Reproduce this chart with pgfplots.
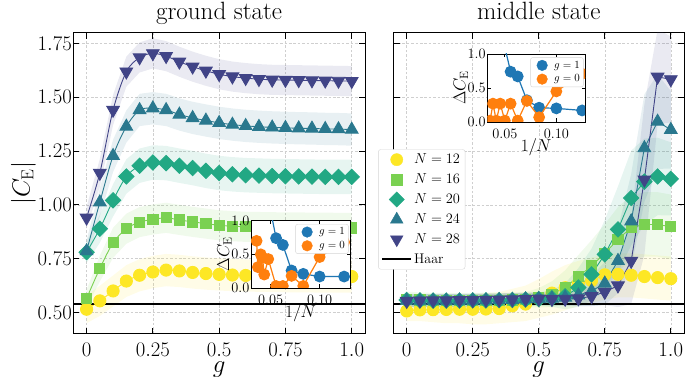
\documentclass[border=0pt]{standalone}
\usepackage{pgfplots}
\pgfplotsset{compat=1.18}
\usepackage{pgfplotstable}
\usepgfplotslibrary{fillbetween}

\definecolor{cA}{HTML}{FDE725}
\definecolor{cB}{HTML}{7AD151}
\definecolor{cC}{HTML}{22A884}
\definecolor{cD}{HTML}{2A788E}
\definecolor{cE}{HTML}{414487}
\definecolor{tblue}{HTML}{1F77B4}
\definecolor{torange}{HTML}{FF7F0E}
\definecolor{gridc}{HTML}{CFCFCF}
\definecolor{legc}{HTML}{D5D5D5}

% ---------------- ground state ----------------
\pgfplotstableread{
g y lo hi
0 0.515 0.450 0.580
0.05 0.554 0.484 0.624
0.1 0.600 0.528 0.672
0.15 0.646 0.572 0.720
0.2 0.673 0.598 0.748
0.25 0.688 0.613 0.763
0.3 0.697 0.622 0.772
0.35 0.693 0.618 0.768
0.4 0.686 0.611 0.761
0.45 0.681 0.606 0.756
0.5 0.677 0.602 0.752
0.55 0.674 0.599 0.749
0.6 0.672 0.597 0.747
0.65 0.671 0.596 0.746
0.7 0.670 0.595 0.745
0.75 0.669 0.594 0.744
0.8 0.668 0.593 0.743
0.85 0.668 0.593 0.743
0.9 0.667 0.592 0.742
0.95 0.667 0.592 0.742
1.0 0.667 0.592 0.742
}\gA
\pgfplotstableread{
g y lo hi
0 0.565 0.525 0.605
0.05 0.704 0.644 0.764
0.1 0.824 0.754 0.894
0.15 0.889 0.819 0.959
0.2 0.920 0.850 0.990
0.25 0.932 0.862 1.002
0.3 0.940 0.870 1.010
0.35 0.930 0.860 1.000
0.4 0.921 0.851 0.991
0.45 0.913 0.843 0.983
0.5 0.905 0.835 0.975
0.55 0.901 0.831 0.971
0.6 0.898 0.828 0.968
0.65 0.897 0.827 0.967
0.7 0.896 0.826 0.966
0.75 0.895 0.825 0.965
0.8 0.895 0.825 0.965
0.85 0.894 0.824 0.964
0.9 0.894 0.824 0.964
0.95 0.893 0.823 0.963
1.0 0.893 0.823 0.963
}\gB
\pgfplotstableread{
g y lo hi
0 0.780 0.730 0.830
0.05 0.889 0.824 0.954
0.1 1.021 0.946 1.096
0.15 1.132 1.052 1.212
0.2 1.182 1.102 1.262
0.25 1.197 1.117 1.277
0.3 1.194 1.114 1.274
0.35 1.182 1.102 1.262
0.4 1.171 1.091 1.251
0.45 1.158 1.078 1.238
0.5 1.148 1.068 1.228
0.55 1.142 1.062 1.222
0.6 1.138 1.058 1.218
0.65 1.136 1.056 1.216
0.7 1.134 1.054 1.214
0.75 1.133 1.053 1.213
0.8 1.132 1.052 1.212
0.85 1.131 1.051 1.211
0.9 1.130 1.050 1.210
0.95 1.130 1.050 1.210
1.0 1.130 1.050 1.210
}\gC
\pgfplotstableread{
g y lo hi
0 0.785 0.735 0.835
0.05 1.012 0.947 1.077
0.1 1.228 1.153 1.303
0.15 1.364 1.289 1.439
0.2 1.441 1.366 1.516
0.25 1.449 1.374 1.524
0.3 1.441 1.366 1.516
0.35 1.420 1.345 1.495
0.4 1.404 1.329 1.479
0.45 1.392 1.317 1.467
0.5 1.381 1.306 1.456
0.55 1.373 1.298 1.448
0.6 1.367 1.292 1.442
0.65 1.363 1.288 1.438
0.7 1.360 1.285 1.435
0.75 1.358 1.283 1.433
0.8 1.356 1.281 1.431
0.85 1.355 1.280 1.430
0.9 1.353 1.278 1.428
0.95 1.352 1.277 1.427
1.0 1.350 1.275 1.425
}\gD
\pgfplotstableread{
g y lo hi
0 0.940 0.890 0.990
0.05 1.148 1.083 1.213
0.1 1.441 1.371 1.511
0.15 1.619 1.549 1.689
0.2 1.685 1.615 1.755
0.25 1.704 1.634 1.774
0.3 1.691 1.621 1.761
0.35 1.665 1.595 1.735
0.4 1.642 1.572 1.712
0.45 1.623 1.553 1.693
0.5 1.607 1.537 1.677
0.55 1.596 1.526 1.666
0.6 1.589 1.519 1.659
0.65 1.584 1.514 1.654
0.7 1.581 1.511 1.651
0.75 1.580 1.510 1.650
0.8 1.579 1.509 1.649
0.85 1.578 1.508 1.648
0.9 1.577 1.507 1.647
0.95 1.576 1.506 1.646
1.0 1.575 1.505 1.645
}\gE

% ---------------- middle state ----------------
\pgfplotstableread{
g y lo hi
0 0.507 0.460 0.570
0.05 0.512 0.460 0.575
0.1 0.513 0.455 0.575
0.15 0.514 0.450 0.580
0.2 0.515 0.450 0.580
0.25 0.515 0.445 0.585
0.3 0.516 0.445 0.590
0.35 0.518 0.450 0.595
0.4 0.531 0.455 0.610
0.45 0.539 0.460 0.625
0.5 0.565 0.475 0.655
0.55 0.590 0.490 0.690
0.6 0.615 0.510 0.720
0.65 0.635 0.530 0.740
0.7 0.648 0.545 0.755
0.75 0.675 0.560 0.770
0.8 0.677 0.570 0.775
0.85 0.673 0.570 0.775
0.9 0.667 0.565 0.770
0.95 0.662 0.560 0.765
1.0 0.657 0.555 0.760
}\mA
\pgfplotstableread{
g y lo hi
0 0.562 0.527 0.597
0.05 0.558 0.523 0.593
0.1 0.556 0.521 0.591
0.15 0.556 0.521 0.591
0.2 0.556 0.521 0.591
0.25 0.556 0.521 0.591
0.3 0.557 0.522 0.592
0.35 0.557 0.522 0.592
0.4 0.558 0.523 0.593
0.45 0.560 0.525 0.595
0.5 0.568 0.523 0.613
0.55 0.585 0.525 0.645
0.6 0.616 0.536 0.696
0.65 0.667 0.567 0.767
0.7 0.716 0.596 0.836
0.75 0.775 0.630 0.910
0.8 0.840 0.690 0.990
0.85 0.894 0.744 1.044
0.9 0.909 0.759 1.059
0.95 0.909 0.759 1.059
1.0 0.898 0.748 1.048
}\mB
\pgfplotstableread{
g y lo hi
0 0.558 0.528 0.588
0.05 0.556 0.526 0.586
0.1 0.555 0.525 0.585
0.15 0.555 0.525 0.585
0.2 0.555 0.525 0.585
0.25 0.556 0.526 0.586
0.3 0.556 0.526 0.586
0.35 0.557 0.527 0.587
0.4 0.558 0.528 0.588
0.45 0.560 0.530 0.590
0.5 0.562 0.532 0.592
0.55 0.566 0.526 0.606
0.6 0.575 0.515 0.635
0.65 0.616 0.526 0.706
0.7 0.677 0.557 0.797
0.75 0.770 0.610 0.930
0.8 0.886 0.686 1.086
0.85 1.032 0.812 1.252
0.9 1.108 0.908 1.308
0.95 1.132 0.952 1.312
1.0 1.121 0.951 1.291
}\mC
\pgfplotstableread{
g y lo hi
0 0.556 0.526 0.586
0.05 0.555 0.525 0.585
0.1 0.555 0.525 0.585
0.15 0.555 0.525 0.585
0.2 0.556 0.526 0.586
0.25 0.556 0.526 0.586
0.3 0.557 0.527 0.587
0.35 0.558 0.528 0.588
0.4 0.559 0.529 0.589
0.45 0.561 0.531 0.591
0.5 0.563 0.533 0.593
0.55 0.565 0.535 0.595
0.6 0.570 0.530 0.610
0.65 0.580 0.530 0.630
0.7 0.600 0.530 0.670
0.75 0.635 0.535 0.735
0.8 0.740 0.590 0.890
0.85 0.924 0.704 1.144
0.9 1.264 1.014 1.514
0.95 1.387 1.167 1.607
1.0 1.349 1.169 1.529
}\mD
\pgfplotstableread{
g y lo hi
0 0.553 0.523 0.583
0.05 0.555 0.525 0.585
0.1 0.556 0.526 0.586
0.15 0.556 0.526 0.586
0.2 0.557 0.527 0.587
0.25 0.557 0.527 0.587
0.3 0.558 0.528 0.588
0.35 0.559 0.529 0.589
0.4 0.560 0.530 0.590
0.45 0.562 0.532 0.592
0.5 0.564 0.534 0.594
0.55 0.562 0.532 0.592
0.6 0.563 0.533 0.593
0.65 0.565 0.530 0.600
0.7 0.575 0.530 0.620
0.75 0.595 0.535 0.655
0.8 0.625 0.525 0.725
0.85 0.739 0.539 0.939
0.9 1.117 0.767 1.467
0.95 1.595 1.375 1.815
1.0 1.583 1.383 1.783
}\mE

% ---------------- insets ----------------
\pgfplotstableread{
x y
0.0357 1.60
0.0385 1.50
0.0417 1.40
0.0455 1.30
0.0500 1.15
0.0556 0.74
0.0625 0.64
0.0714 0.26
0.0833 0.21
0.1000 0.17
0.1250 0.17
}\iLb
\pgfplotstableread{
x y
0.0357 0.70
0.0370 0.31
0.0400 0.50
0.0417 0.45
0.0435 0.20
0.0476 0.43
0.0556 0.03
0.0625 0.03
0.0714 0.18
0.0833 0.03
0.1000 0.46
0.1250 0.68
}\iLo
\pgfplotstableread{
x y
0.0357 1.60
0.0385 1.50
0.0417 1.40
0.0455 1.25
0.0500 1.10
0.0556 0.74
0.0625 0.67
0.0714 0.32
0.0833 0.21
0.1000 0.20
0.1250 0.17
}\iRb
\pgfplotstableread{
x y
0.0357 0.02
0.0385 0.27
0.0417 0.02
0.0455 0.27
0.0500 0.02
0.0556 0.27
0.0625 0.02
0.0714 0.31
0.0833 0.07
0.1000 0.45
0.1250 0.71
}\iRo

\newcommand{\band}[3]{%
  \addplot[draw=none, name path=#3u, forget plot] table[x=g,y=hi]{#1};
  \addplot[draw=none, name path=#3d, forget plot] table[x=g,y=lo]{#1};
  \addplot[fill=#2, fill opacity=0.11, draw=none, forget plot] fill between[of=#3u and #3d];
}
\newcommand{\legmark}[1]{\addlegendimage{legend image code/.code={\path[draw=none,fill=none] (0pt,-5pt) rectangle (29.4pt,5pt); \draw[#1] plot[only marks] coordinates {(14.7pt,0pt)};}}}
\newcommand{\insmark}[1]{\addlegendimage{legend image code/.code={\path[draw=none,fill=none] (0pt,-3.5pt) rectangle (20pt,3.5pt); \draw[#1] plot[only marks] coordinates {(10pt,0pt)};}}}

\pgfplotsset{
  mainax/.style={
    scale only axis, width=291.7pt, height=301.3pt,
    xmin=-0.05, xmax=1.05, ymin=0.4, ymax=1.8,
    xtick={0,0.25,0.5,0.75,1}, xticklabels={$0$,$0.25$,$0.5$,$0.75$,$1.0$},
    ytick={0.5,0.75,1,1.25,1.5,1.75},
    grid=major, grid style={gridc, line width=0.5pt, dash pattern=on 2.6pt off 1.8pt},
    axis line style={line width=1pt},
    major tick length=6pt, tick style={black, line width=0.8pt},
    tick label style={font=\fontsize{20.5}{24}\selectfont},
    xticklabel style={inner sep=0pt, yshift=-9.3pt},
    yticklabel style={inner sep=0pt, xshift=-1.2pt},
    title style={font=\fontsize{25}{30}\selectfont, inner sep=0pt, text depth=5pt, yshift=1.5pt},
    xlabel={$g$},
    xlabel style={font=\fontsize{26}{30}\selectfont, at={(axis description cs:0.5,0)}, anchor=base, yshift=-38.5pt},
  },
  insetax/.style={
    scale only axis, axis background/.style={fill=white},
    ymin=0, ymax=1, ytick={0,0.5,1}, yticklabels={$0.0$,$0.5$,$1.0$},
    xtick={0.05,0.1}, xticklabels={$0.05$,$0.10$},
    axis line style={line width=0.9pt}, tick style={black, line width=0.7pt}, major tick length=3.5pt,
    tick label style={font=\fontsize{14}{16}\selectfont},
    xticklabel style={inner sep=0pt, yshift=-7.5pt},
    yticklabel style={inner sep=0pt, xshift=-1.5pt},
    xlabel={$1/N$}, ylabel={$\Delta C_{\mathrm{E}}$},
    xlabel style={font=\fontsize{18}{20}\selectfont, at={(axis description cs:0.5,0)}, anchor=base, yshift=-29.5pt},
    ylabel style={font=\fontsize{17.5}{20}\selectfont, at={(axis description cs:0,0.5)}, anchor=center, yshift=26.5pt},
    clip marker paths=true,
    legend style={at={(axis description cs:0.985,0.95)}, anchor=north east, draw=legc, rounded corners=2pt, fill=white, font=\fontsize{10.5}{12}\selectfont, inner xsep=1.5pt, inner ysep=1.5pt, row sep=1.2pt},
    legend cell align=left,
  },
  pA/.style={cA, line width=0.9pt, mark=*, mark size=6.1pt},
  pB/.style={cB, line width=0.9pt, mark=square*, mark size=5.1pt},
  pC/.style={cC, line width=0.9pt, mark=square*, mark size=5.4pt, mark options={rotate=45}},
  pD/.style={cD, line width=0.9pt, mark=triangle*, mark size=7.3pt},
  pE/.style={cE, line width=0.9pt, mark=triangle*, mark size=7.3pt, mark options={rotate=180}},
}

\begin{document}
\begin{tikzpicture}
% ===== left: ground state =====
\begin{axis}[mainax, at={(73.3pt,43pt)}, anchor=south west,
  title={ground state},
  yticklabels={$0.50$,$0.75$,$1.00$,$1.25$,$1.50$,$1.75$},
  ylabel={$|C_{\mathrm{E}}|$},
  ylabel style={font=\fontsize{25}{30}\selectfont, at={(axis description cs:0,0.5)}, anchor=center, yshift=50pt}]
\band{\gA}{cA}{la}
\band{\gB}{cB}{lb}
\band{\gC}{cC}{lc}
\band{\gD}{cD}{ld}
\band{\gE}{cE}{le}
\addplot[pA, smooth] table[x=g,y=y]{\gA};
\addplot[pB, smooth] table[x=g,y=y]{\gB};
\addplot[pC, smooth] table[x=g,y=y]{\gC};
\addplot[pD, smooth] table[x=g,y=y]{\gD};
\addplot[pE, smooth] table[x=g,y=y]{\gE};
\addplot[black, line width=1.5pt] coordinates {(-0.05,0.54) (1.05,0.54)};
\end{axis}

\begin{axis}[insetax, at={(251pt,89pt)}, anchor=south west, width=99pt, height=67.3pt, xmin=0.030, xmax=0.131]
\insmark{mark=*, mark size=5.3pt, tblue, fill=tblue}
\addlegendentry{$g=1$}
\insmark{mark=*, mark size=5.3pt, torange, fill=torange}
\addlegendentry{$g=0$}
\addplot[tblue, line width=1.2pt, mark=*, mark size=5.3pt, forget plot] table[x=x,y=y]{\iLb};
\addplot[torange, line width=1.2pt, mark=*, mark size=5.3pt, forget plot] table[x=x,y=y]{\iLo};
\end{axis}

% ===== right: middle state =====
\begin{axis}[mainax, at={(393.5pt,43pt)}, anchor=south west, width=290.5pt,
  title={middle state}, yticklabels={},
  legend style={at={(axis description cs:-0.053,0.613)}, anchor=north west, draw=legc, rounded corners=2.5pt, fill=white, font=\fontsize{14}{16}\selectfont, inner xsep=3pt, inner ysep=2.5pt, row sep=4.6pt},
  legend cell align=left]
\legmark{mark=*, mark size=6.1pt, cA, fill=cA}
\addlegendentry{$N=12$}
\legmark{mark=square*, mark size=5.1pt, cB, fill=cB}
\addlegendentry{$N=16$}
\legmark{mark=square*, mark size=5.4pt, mark options={rotate=45}, cC, fill=cC}
\addlegendentry{$N=20$}
\legmark{mark=triangle*, mark size=7.3pt, cD, fill=cD}
\addlegendentry{$N=24$}
\legmark{mark=triangle*, mark size=7.3pt, mark options={rotate=180}, cE, fill=cE}
\addlegendentry{$N=28$}
\addlegendimage{legend image code/.code={\path[draw=none,fill=none] (0pt,-5pt) rectangle (29.4pt,5pt); \draw[black, line width=1.5pt] (0pt,0pt) -- (29.4pt,0pt);}}
\addlegendentry{Haar}
\band{\mA}{cA}{ra}
\band{\mB}{cB}{rb}
\band{\mC}{cC}{rc}
\band{\mD}{cD}{rd}
\band{\mE}{cE}{re}
\addplot[pA, forget plot] table[x=g,y=y]{\mA};
\addplot[pB, forget plot] table[x=g,y=y]{\mB};
\addplot[pC, forget plot] table[x=g,y=y]{\mC};
\addplot[pD, forget plot] table[x=g,y=y]{\mD};
\addplot[pE, forget plot] table[x=g,y=y]{\mE};
\addplot[black, line width=1.5pt, forget plot] coordinates {(-0.05,0.54) (1.05,0.54)};
\end{axis}

\begin{axis}[insetax, at={(487.3pt,255pt)}, anchor=south west, width=97.7pt, height=68pt, xmin=0.033, xmax=0.1278]
\insmark{mark=*, mark size=5.3pt, tblue, fill=tblue}
\addlegendentry{$g=1$}
\insmark{mark=*, mark size=5.3pt, torange, fill=torange}
\addlegendentry{$g=0$}
\addplot[tblue, line width=1.2pt, mark=*, mark size=5.3pt, forget plot] table[x=x,y=y]{\iRb};
\addplot[torange, line width=1.2pt, mark=*, mark size=5.3pt, forget plot] table[x=x,y=y]{\iRo};
\end{axis}

\pgfresetboundingbox
\path[use as bounding box] (0pt,0pt) rectangle (685pt,377pt);
\end{tikzpicture}
\end{document}
